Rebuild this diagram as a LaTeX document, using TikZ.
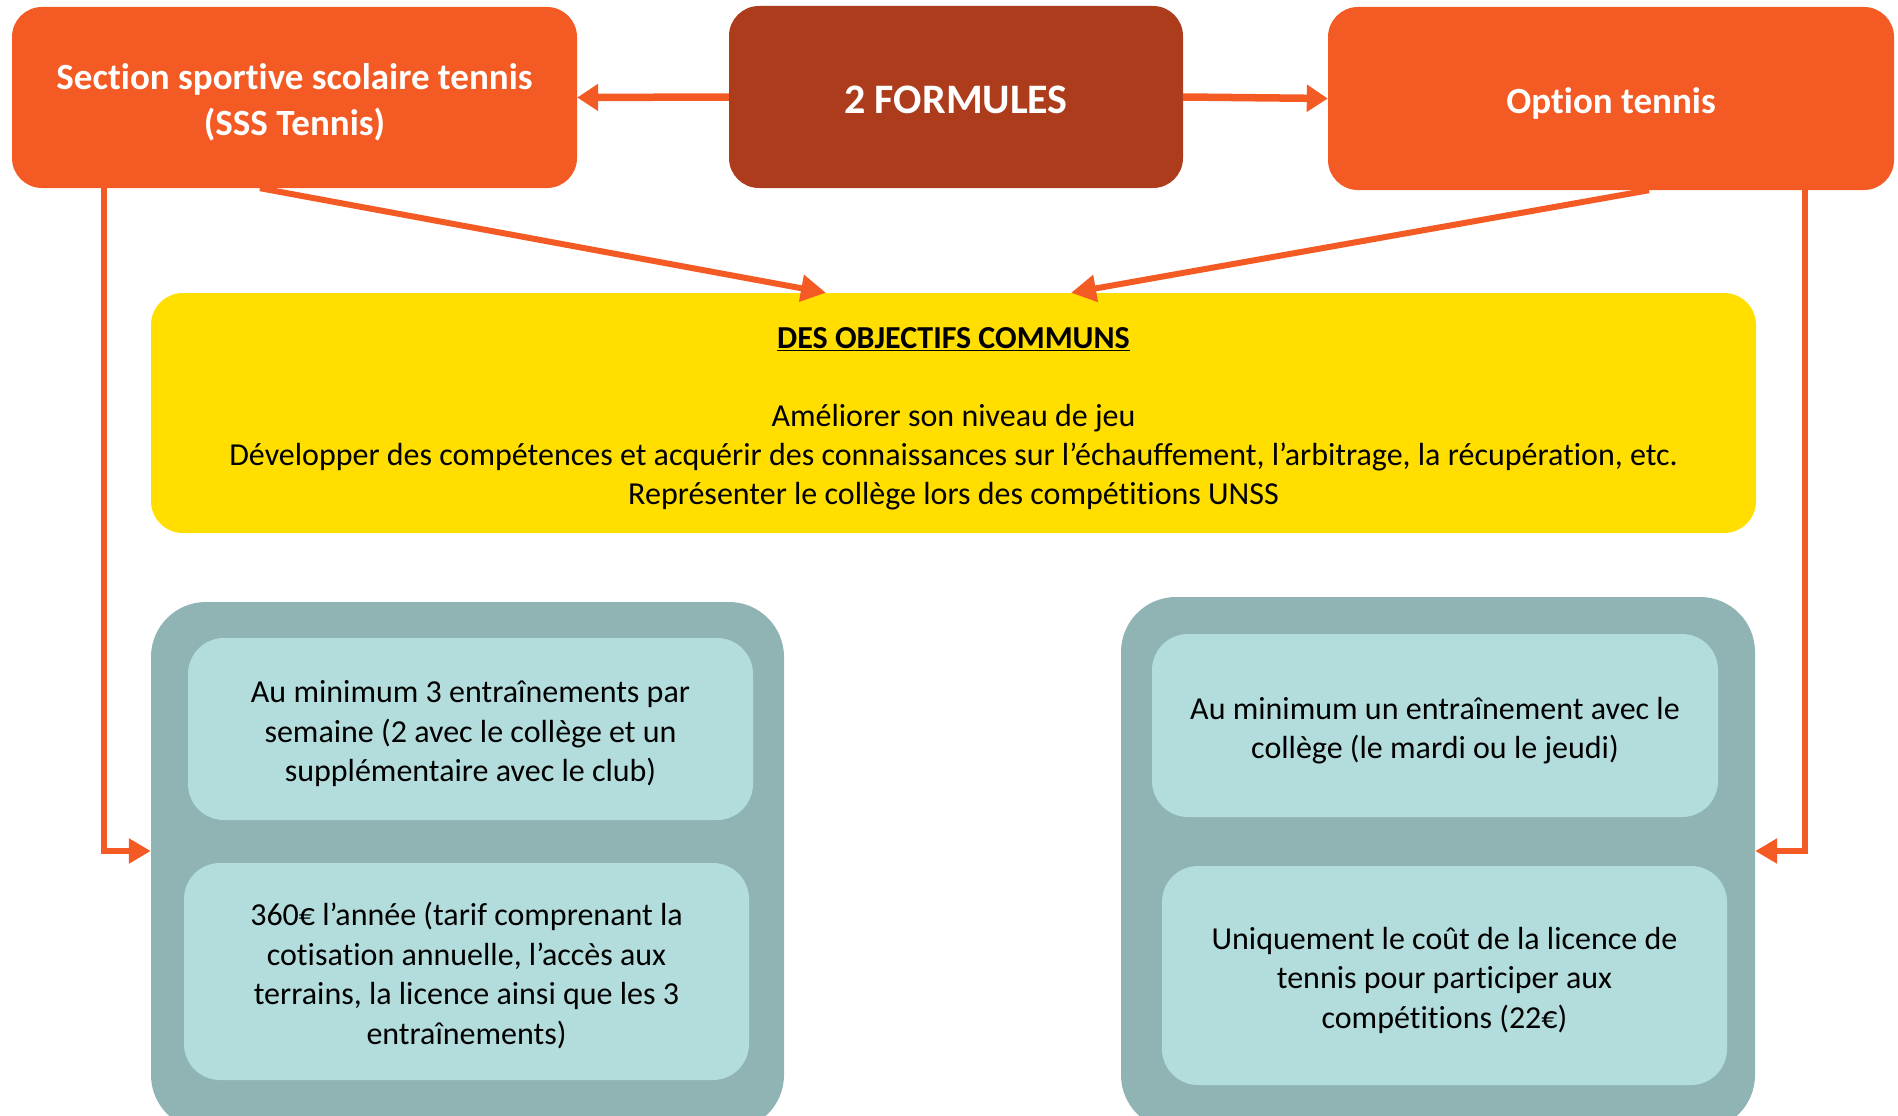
\documentclass[tikz,border=0pt]{standalone}
\usepackage{fontspec}
\setmainfont{Carlito}[Ligatures={NoCommon,NoContextual,NoRare}]
\usetikzlibrary{arrows.meta}
\definecolor{orng}{RGB}{244,90,36}
\definecolor{brwn}{RGB}{172,60,28}
\definecolor{yel}{RGB}{255,222,0}
\definecolor{grp}{RGB}{143,180,179}
\definecolor{innr}{RGB}{178,221,220}
\newcommand{\fst}{\rule{0pt}{\dimexpr0.952em+5pt\relax}}
\newcommand{\lst}{\rule[-0.269em]{0pt}{0.269em}}
\begin{document}
\begin{tikzpicture}[x=1pt,y=-1pt,
  topbox/.style={rectangle,rounded corners=30pt,fill=orng,text=white,align=center,inner sep=0pt,
    font=\fontsize{37}{46}\selectfont\bfseries},
  grpbox/.style={rectangle,rounded corners=55pt,fill=grp,inner sep=0pt},
  innbox/.style={rectangle,rounded corners=36pt,fill=innr,align=center,inner sep=0pt,
    font=\fontsize{32}{39.5}\selectfont,minimum width=565pt},
  harrow/.style={draw=orng,line width=7.5pt,-{Triangle[length=21pt,width=26pt]}},
  darrow/.style={draw=orng,line width=6pt,-{Triangle[length=25pt,width=26pt]}},
  varrow/.style={draw=orng,line width=6.5pt,-{Triangle[length=22pt,width=24pt]}}]
\useasboundingbox (0,0) rectangle (1898,1116);
% top row
\node[topbox,minimum width=565pt,minimum height=181pt] (sss) at (294.5,97.5)
  {\fst Section sportive scolaire tennis\\(SSS Tennis)\lst};
\node[topbox,fill=brwn,minimum width=454pt,minimum height=182pt,
  font=\fontsize{42}{50}\selectfont\bfseries] (form) at (956,97) {\fst 2 FORMULES\lst};
\node[topbox,minimum width=566pt,minimum height=183pt] (opt) at (1611,98.5) {\fst Option tennis\lst};
% common objectives
\node[rectangle,rounded corners=32pt,fill=yel,minimum width=1605pt,minimum height=240pt,
  align=center,inner sep=0pt,font=\fontsize{32}{39}\selectfont] (obj) at (953.5,413)
  {\fst\underline{\textbf{DES OBJECTIFS COMMUNS}}\\[39pt]
   Améliorer son niveau de jeu\\
   Développer des compétences et acquérir des connaissances sur l’échauffement, l’arbitrage, la récupération, etc.\\
   Représenter le collège lors des compétitions UNSS\lst};
% groups
\node[grpbox,minimum width=633pt,minimum height=528pt] (lgrp) at (467.5,866) {};
\node[grpbox,minimum width=634pt,minimum height=533pt] (rgrp) at (1438,863.5) {};
\node[innbox,minimum height=182pt] (l1) at (470.5,729)
  {\fst Au minimum 3 entraînements par\\semaine (2 avec le collège et un\\supplémentaire avec le club)\lst};
\node[innbox,minimum height=217pt] (l2) at (466.5,971.5)
  {\fst 360€ l’année (tarif comprenant la\\cotisation annuelle, l’accès aux\\terrains, la licence ainsi que les 3\\entraînements)\lst};
\node[innbox,minimum width=566pt,minimum height=183pt] (r1) at (1435,725.5)
  {\fst Au minimum un entraînement avec le\\collège (le mardi ou le jeudi)\lst};
\node[innbox,minimum height=219pt] (r2) at (1444.5,975.5)
  {\fst Uniquement le coût de la licence de\\tennis pour participer aux\\compétitions (22€)\lst};
% connectors
\draw[harrow] (form.west) -- (sss.east);
\draw[harrow] (form.east) -- (opt.west);
\draw[darrow] ([xshift=-34.5pt]sss.south) -- ([xshift=-127.5pt]obj.north);
\draw[darrow] ([xshift=38pt]opt.south) -- ([xshift=117.5pt]obj.north);
\draw[varrow] ([xshift=92pt]sss.south west) |- ([yshift=15pt]lgrp.west);
\draw[varrow] ([xshift=-89pt]opt.south east) |- ([yshift=12.5pt]rgrp.east);
\end{tikzpicture}
\end{document}
